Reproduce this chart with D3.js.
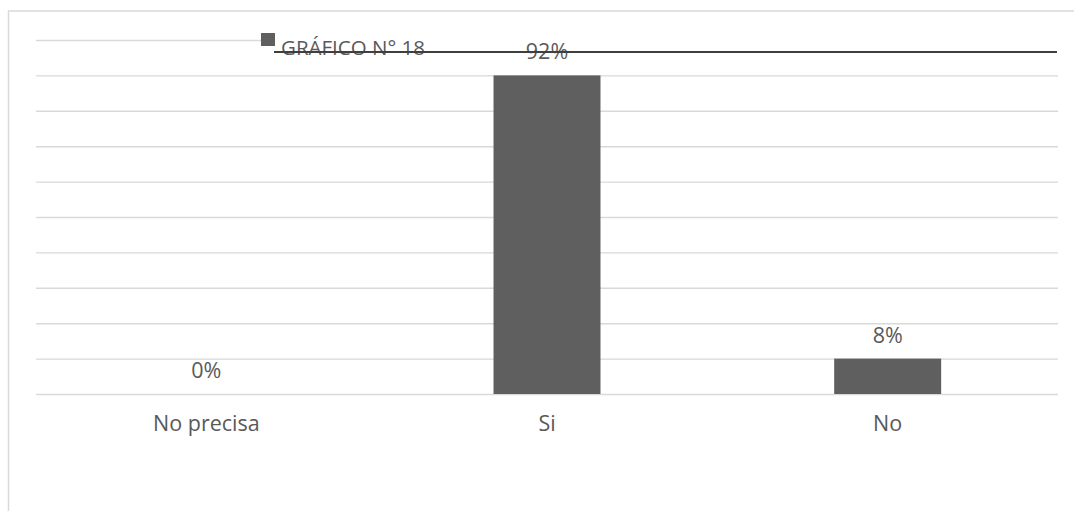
<!DOCTYPE html>
<html>
<head>
<meta charset="utf-8">
<script src="https://cdn.jsdelivr.net/npm/d3@7"></script>
<style>
  html, body { margin: 0; padding: 0; background: #ffffff; }
  svg { display: block; }
</style>
</head>
<body>
<svg id="chart" width="1074" height="511"></svg>
<script>
// ---- data ----
const categories = ["No precisa", "Si", "No"];
// bar heights as drawn (fraction of the 0–1 axis)
const barValues = [0, 0.90, 0.10];
// data labels as printed on the chart
const valueLabels = ["0%", "92%", "8%"];
const seriesName = "GRÁFICO N° 18";
const yTicks = [0, 0.1, 0.2, 0.3, 0.4, 0.5, 0.6, 0.7, 0.8, 0.9, 1.0];

// ---- layout ----
const W = 1074, H = 511;
const plot = { left: 36, right: 1058, top: 40, bottom: 394 };
const barColor = "#5f5f5f";
const gridColor = "#d9d9d9";
const textColor = "#595959";
const font = "'Open Sans', 'Noto Sans', sans-serif";
const fontSize = "21.5px";

const svg = d3.select("#chart");

// chart area border (left + top visible)
svg.append("rect")
  .attr("x", 8.5).attr("y", 11)
  .attr("width", W + 20).attr("height", H + 20)
  .attr("fill", "#ffffff")
  .attr("stroke", gridColor).attr("stroke-width", 1.5);

const x = d3.scaleBand()
  .domain(categories)
  .range([plot.left, plot.right])
  .paddingInner(0.686)
  .paddingOuter(0.343);

const y = d3.scaleLinear()
  .domain([0, 1])
  .range([plot.bottom, plot.top]);

// gridlines via axis
const gridAxis = d3.axisLeft(y)
  .tickValues(yTicks)
  .tickSize(-(plot.right - plot.left))
  .tickFormat("");
const g = svg.append("g")
  .attr("transform", `translate(${plot.left},0)`)
  .call(gridAxis);
g.select(".domain").remove();
g.selectAll(".tick line")
  .attr("stroke", gridColor)
  .attr("stroke-width", 1.4);

// legend background covers part of top gridline
const legendX = 261, legendY = 33;
svg.append("rect")
  .attr("x", legendX + 1).attr("y", 30)
  .attr("width", plot.right - legendX).attr("height", 20)
  .attr("fill", "#ffffff");

// bars
svg.append("g").selectAll("rect")
  .data(categories)
  .join("rect")
  .attr("x", d => x(d))
  .attr("width", x.bandwidth())
  .attr("y", (d, i) => y(barValues[i]))
  .attr("height", (d, i) => y(0) - y(barValues[i]))
  .attr("fill", barColor);

// category axis labels
const xAxis = d3.axisBottom(x).tickSize(0).tickPadding(0);
const xg = svg.append("g")
  .attr("transform", `translate(0,${plot.bottom})`)
  .call(xAxis);
xg.select(".domain").remove();
xg.selectAll(".tick text")
  .attr("y", 37)
  .attr("dy", 0)
  .attr("fill", textColor)
  .style("font-family", font)
  .style("font-size", fontSize);

// data labels
svg.append("g").selectAll("text")
  .data(categories)
  .join("text")
  .attr("x", d => x(d) + x.bandwidth() / 2)
  .attr("y", (d, i) => y(barValues[i]) - 16)
  .attr("text-anchor", "middle")
  .attr("fill", textColor)
  .style("font-family", font)
  .style("font-size", fontSize)
  .text((d, i) => valueLabels[i]);

// legend
svg.append("rect")
  .attr("x", legendX).attr("y", legendY)
  .attr("width", 14).attr("height", 13)
  .attr("fill", barColor);
svg.append("text")
  .attr("x", legendX + 20).attr("y", 55)
  .attr("fill", textColor)
  .style("font-family", font)
  .style("font-size", "20.5px")
  .text(seriesName);
svg.append("line")
  .attr("x1", legendX + 13).attr("x2", plot.right - 1)
  .attr("y1", 52).attr("y2", 52)
  .attr("stroke", "#3f3f3f")
  .attr("stroke-width", 2);
</script>
</body>
</html>
